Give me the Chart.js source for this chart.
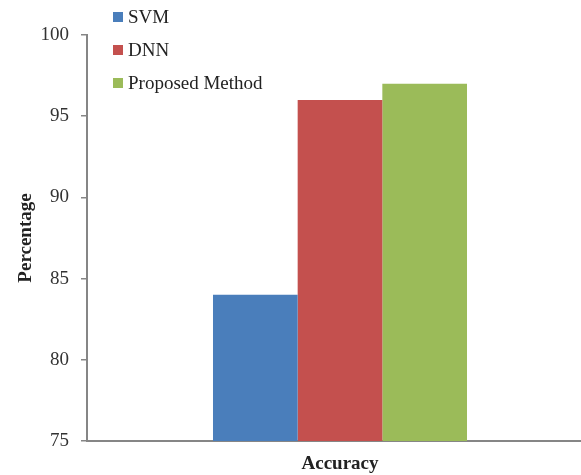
<!DOCTYPE html>
<html>
<head>
<meta charset="utf-8">
<script src="https://cdn.jsdelivr.net/npm/chart.js@4/dist/chart.umd.min.js"></script>
<style>
  html, body { margin: 0; padding: 0; background: #fff; overflow: hidden; }
  #wrap { width: 593px; height: 475px; }
</style>
</head>
<body>
<div id="wrap"><canvas id="c" width="593" height="475"></canvas></div>
<script>
const categories = ['Accuracy'];
const seriesNames = ['SVM', 'DNN', 'Proposed Method'];
const svmValues = [84];
const dnnValues = [96];
const proposedValues = [97];
const yTicks = [75, 80, 85, 90, 95, 100];

const colors = ['#4A7EBB', '#C4504E', '#9BBB59'];
const serif = '"Liberation Serif", "DejaVu Serif", serif';
const axisGray = '#868686';

// Vertical legend stacked in the upper-left corner
const stackedLegend = {
  id: 'stackedLegend',
  afterDraw(chart) {
    const ctx = chart.ctx;
    ctx.save();
    ctx.font = '19px ' + serif;
    ctx.textBaseline = 'middle';
    ctx.textAlign = 'left';
    chart.data.datasets.forEach((ds, i) => {
      const y = 17 + i * 33;
      ctx.fillStyle = ds.backgroundColor;
      ctx.fillRect(113, y - 5, 10, 10);
      ctx.fillStyle = '#222';
      ctx.fillText(ds.label, 128, y + 1);
    });
    ctx.restore();
  }
};

new Chart(document.getElementById('c'), {
  type: 'bar',
  data: {
    labels: categories,
    datasets: [
      { label: seriesNames[0], data: svmValues, backgroundColor: colors[0] },
      { label: seriesNames[1], data: dnnValues, backgroundColor: colors[1] },
      { label: seriesNames[2], data: proposedValues, backgroundColor: colors[2] }
    ]
  },
  options: {
    responsive: false,
    animation: false,
    layout: { padding: { top: 35, left: 0, right: 0, bottom: 0 } },
    datasets: { bar: { categoryPercentage: 0.502, barPercentage: 1.0 } },
    plugins: { legend: { display: false }, tooltip: { enabled: false } },
    scales: {
      x: {
        afterFit(s) { s.height = 34; },
        grid: { display: true, drawOnChartArea: false, drawTicks: false, color: axisGray },
        border: { color: axisGray, width: 2 },
        ticks: { padding: 12, color: '#222', font: { family: serif, size: 19, weight: 'bold' } }
      },
      y: {
        min: 75,
        max: 100,
        afterFit(s) { s.width = 87; },
        afterBuildTicks(s) { s.ticks = yTicks.map(v => ({ value: v })); },
        grid: { drawOnChartArea: false, drawTicks: true, tickLength: 6, color: axisGray, lineWidth: 1.5 },
        border: { color: axisGray, width: 2 },
        ticks: { padding: 12, color: '#333', font: { family: serif, size: 19 } },
        title: {
          display: true,
          text: 'Percentage',
          color: '#222',
          padding: { top: 15, bottom: 0 },
          font: { family: serif, size: 19, weight: 'bold' }
        }
      }
    }
  },
  plugins: [stackedLegend]
});
</script>
</body>
</html>
